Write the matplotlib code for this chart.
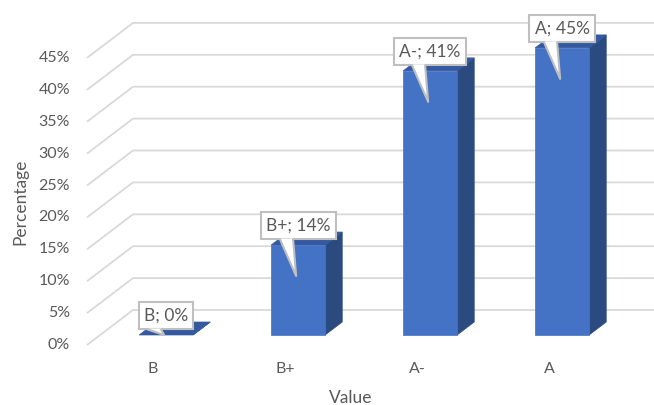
import matplotlib
matplotlib.use("Agg")
import matplotlib.pyplot as plt
from matplotlib.patches import Polygon

# --- data -------------------------------------------------------------------

categories = ["B", "B+", "A-", "A"]
values = [0.0, 14.1, 41.4, 45.0]          # percent
y_ticks = [0, 5, 10, 15, 20, 25, 30, 35, 40, 45]
x_title = "Value"
y_title = "Percentage"

# --- layout (pixels on a 654x405 canvas) -------------------------------------

W_PX, H_PX = 654, 405
X0_PX, CAT_PX = 153, 132       # first category, spacing between categories
Y0_PX, PCT_PX = 345, 6.38      # 0% line (from top), pixels per percent

FRONT = "#4472C4"
SIDE = "#2B4A80"
TOP = "#3459A0"
GRID = "#d9d9d9"
TEXT = "#595959"
FONT = "Lato"


def dx(px):
    return px / CAT_PX


def dy(px):
    return px / PCT_PX


DEPTH_X, DEPTH_Y = dx(46), dy(35)     # front plane -> back wall
BAR_Z0, BAR_Z1 = 0.286, 0.657         # bar front / back depth
BAR_W = dx(54)


def proj(x, v, z):
    """Oblique projection: category x, value v, depth z (0 front, 1 back)."""
    return x + z * DEPTH_X, v + z * DEPTH_Y


fig = plt.figure(figsize=(W_PX / 100, H_PX / 100), dpi=100)
ax = fig.add_axes([0, 0, 1, 1])
ax.set_xlim(-X0_PX / CAT_PX, (W_PX - X0_PX) / CAT_PX)
ax.set_ylim(-(H_PX - Y0_PX) / PCT_PX, Y0_PX / PCT_PX)
ax.axis("off")

# gridlines: diagonal on the floor-side wall, then flat along the back wall
x_left = -0.5
x_right = ax.get_xlim()[1] + 1
for t in y_ticks:
    bx, by = proj(x_left, t, 1.0)
    ax.plot([x_left, bx, x_right], [t, by, by], color=GRID, lw=1.3,
            zorder=1, solid_capstyle="butt")
    ax.text(x_left - dx(17), t, f"{t}%", ha="right", va="center",
            fontsize=11.5, color=TEXT, family=FONT)

# bars
for i, v in enumerate(values):
    l, r = i - BAR_W / 2, i + BAR_W / 2
    fl0, fr0 = proj(l, 0, BAR_Z0), proj(r, 0, BAR_Z0)
    fl1, fr1 = proj(l, v, BAR_Z0), proj(r, v, BAR_Z0)
    bl1, br1 = proj(l, v, BAR_Z1), proj(r, v, BAR_Z1)
    br0 = proj(r, 0, BAR_Z1)
    ax.add_patch(Polygon([fr0, br0, br1, fr1], closed=True, fc=SIDE,
                         ec=SIDE, lw=0.5, zorder=3))
    ax.add_patch(Polygon([fl1, fr1, br1, bl1], closed=True, fc=TOP,
                         ec=TOP, lw=0.5, zorder=3))
    if v > 0:
        ax.add_patch(Polygon([fl0, fr0, fr1, fl1], closed=True, fc=FRONT,
                             ec=FRONT, lw=0.5, zorder=4))

    # category label on the front plane
    ax.text(i, -dy(24), categories[i], ha="center", va="center",
            fontsize=11.5, color=TEXT, family=FONT)

# callout data labels
for i, v in enumerate(values):
    fx, fy = proj(i, v, BAR_Z0)
    cy = fy + dy(19.5)
    ax.text(fx, cy, f"{categories[i]}; {v:.0f}%", ha="center", va="center",
            fontsize=12.5, color=TEXT, family=FONT, zorder=6,
            bbox=dict(boxstyle="square,pad=0.3", fc="white", ec="#bfbfbf",
                      lw=1.5))
    base = cy - dy(14.5) + dy(1.5)
    tip = (fx - dx(2), fy - min(dy(31), v))
    p1, p2 = (fx - dx(18), base), (fx - dx(5), base)
    ax.add_patch(Polygon([p1, p2, tip], closed=True, fc="white", ec="none",
                         zorder=7))
    ax.plot([p1[0], tip[0], p2[0]], [p1[1] - dy(1.2), tip[1], p2[1] - dy(1.2)],
            color="#bfbfbf", lw=1.5, zorder=7)

# axis titles
ax.text(1.5, -dy(53), x_title, ha="center", va="center",
        fontsize=12.5, color=TEXT, family=FONT)
ax.text(x_left - dx(67), 22.5, y_title, ha="center", va="center",
        rotation=90, fontsize=12.5, color=TEXT, family=FONT)

fig.savefig("out.png", dpi=100)
plt.close(fig)
